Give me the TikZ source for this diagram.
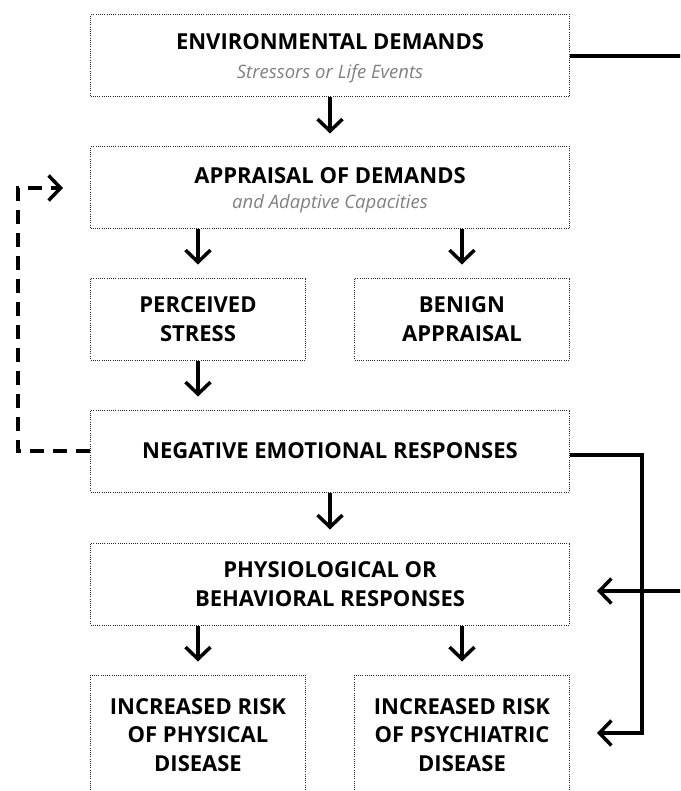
\documentclass[tikz,border=0pt]{standalone}
\usepackage{fontspec}
\setmainfont{Open Sans}
\usetikzlibrary{arrows.meta,positioning}
\newcommand{\subline}[1]{{\mdseries\itshape\color{black!50}\fontsize{18.5}{20}\selectfont #1}}
\tikzset{box/.style={draw=black!85, line width=1pt, dash pattern=on 1pt off 1.2pt, minimum height=82pt, inner sep=4pt, align=center, font=\bfseries\fontsize{22}{28.5}\selectfont},
  wide/.style={box, minimum width=479pt}, half/.style={box, minimum width=215pt},
  link/.style={line width=3.5pt, -{Straight Barb[length=12pt,width=25pt]}}}

\begin{document}
\begin{tikzpicture}[x=1pt, y=1pt]
    \useasboundingbox (0,0) rectangle (680,-791);
    \clip (0,0) rectangle (680,-791);
    \node[wide, text depth=0pt] (ENV) at (330,-56) {ENVIRONMENTAL DEMANDS\\[1pt]\subline{Stressors or Life Events}};
    \node[wide, text depth=0pt, below=49pt of ENV] (APP) {APPRAISAL OF DEMANDS\\[-3pt]\subline{and Adaptive Capacities}};
    \node[half, below=48pt of APP.south west, anchor=north west] (PS) {PERCEIVED\\STRESS};
    \node[half, below=48pt of APP.south east, anchor=north east] (BA) {BENIGN\\APPRAISAL};
    \node[wide, below=49pt of PS.south west, anchor=north west] (NER) {NEGATIVE EMOTIONAL RESPONSES};
    \node[wide, below=50pt of NER] (PBR) {PHYSIOLOGICAL OR\\BEHAVIORAL RESPONSES};
    \node[half, minimum height=120pt, below=49pt of PBR.south west, anchor=north west] (RPD) {INCREASED RISK\\OF PHYSICAL\\DISEASE};
    \node[half, minimum height=120pt, below=49pt of PBR.south east, anchor=north east] (RPS) {INCREASED RISK\\OF PSYCHIATRIC\\DISEASE};
    % main flow
    \draw[link, shorten >=13pt] (ENV.south) -- (APP.north);
    \draw[link, shorten >=13pt] (APP.south -| PS.north) -- (PS.north);
    \draw[link, shorten >=13pt] (APP.south -| BA.north) -- (BA.north);
    \draw[link, shorten >=13pt] (PS.south) -- (PS.south |- NER.north);
    \draw[link, shorten >=13pt] (NER.south) -- (PBR.north);
    \draw[link, shorten >=13pt] (PBR.south -| RPD.north) -- (RPD.north);
    \draw[link, shorten >=13pt] (PBR.south -| RPS.north) -- (RPS.north);
    % feedback and side paths
    \draw[link, dash pattern=on 14pt off 9pt] (NER.west) -- ++(-72,0) |- ([xshift=-27pt]APP.west);
    \draw[link] ([yshift=-4pt]NER.east) -- ++(72,0) |- ([xshift=27pt,yshift=2pt]RPS.east);
    \draw[link] (ENV.east) -- ++(150,0) |- ([xshift=27pt,yshift=-7pt]PBR.east);
\end{tikzpicture}
\end{document}
